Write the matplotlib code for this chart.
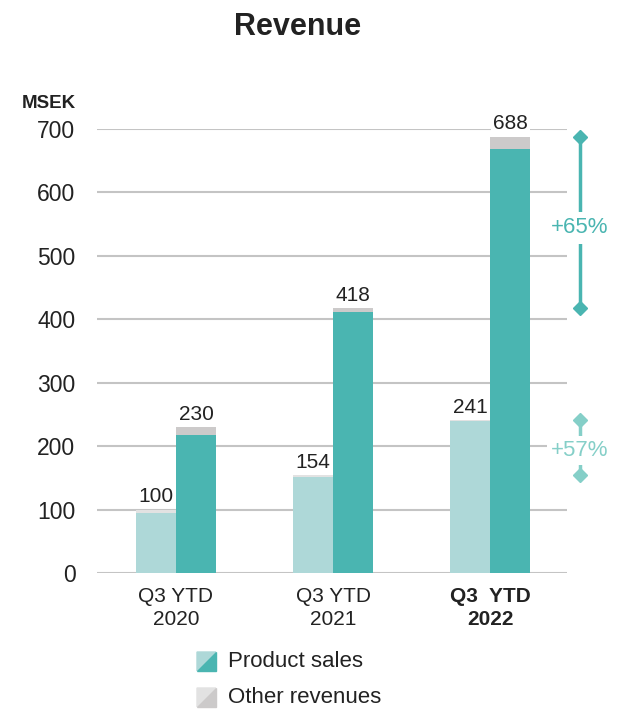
import matplotlib.pyplot as plt
from matplotlib.patches import Polygon
import numpy as np

plt.rcParams['font.family'] = ['Liberation Sans', 'DejaVu Sans']

# Revenue per period, MSEK (light bar = quarter, dark bar = year to date)
periods = ['Q3 YTD\n2020', 'Q3 YTD\n2021', 'Q3  YTD\n2022']
quarter_product = [94, 151, 240]
quarter_other = [6, 3, 1]
ytd_product = [218, 412, 668]
ytd_other = [12, 6, 20]
growth_ytd = '+65%'
growth_quarter = '+57%'
yticks = [0, 100, 200, 300, 400, 500, 600, 700]

LIGHT = '#aed8d8'
DARK = '#4ab5b1'
MID = '#85cfc8'
GREY_LIGHT = '#e2e2e2'
GREY_DARK = '#cccaca'
TEXT = '#222222'

fig = plt.figure(figsize=(6.17, 7.10), dpi=100)
ax = fig.add_axes([97 / 617, 1 - 573 / 710, 470 / 617, 444 / 710])

x = np.arange(len(periods))
w = 0.255
q_tot = np.add(quarter_product, quarter_other)
y_tot = np.add(ytd_product, ytd_other)

ax.bar(x - w / 2, quarter_product, w, color=LIGHT, zorder=3)
ax.bar(x - w / 2, quarter_other, w, bottom=quarter_product, color=GREY_LIGHT, zorder=3)
ax.bar(x + w / 2, ytd_product, w, color=DARK, zorder=3)
ax.bar(x + w / 2, ytd_other, w, bottom=ytd_product, color=GREY_DARK, zorder=3)

box = dict(facecolor='white', edgecolor='none', pad=1.5)
for xi, t in zip(x - w / 2, q_tot):
    ax.text(xi, t + 5, f'{t}', ha='center', va='bottom', fontsize=15,
            color=TEXT, bbox=box, zorder=4)
for xi, t in zip(x + w / 2, y_tot):
    ax.text(xi, t + 5, f'{t}', ha='center', va='bottom', fontsize=15,
            color=TEXT, bbox=box, zorder=4)

ax.set_xlim(-0.503, 2.49)
ax.set_ylim(0, 700)
ax.set_yticks(yticks)
ax.yaxis.grid(True, color='#c4c4c4', lw=1.5, zorder=0)
ax.set_axisbelow(True)
for s in ax.spines.values():
    s.set_visible(False)
ax.tick_params(axis='y', length=0, pad=15.5, labelsize=16.5, labelcolor=TEXT)
ax.tick_params(axis='x', length=0, pad=10, labelsize=15, labelcolor=TEXT)
ax.set_xticks(x)
ax.set_xticklabels(periods, linespacing=1.3)
ax.get_xticklabels()[-1].set_fontweight('bold')

fig.text(76 / 617, 1 - 108 / 710, 'MSEK', ha='right', va='baseline',
         fontsize=13.5, fontweight='bold', color=TEXT)
fig.text(298 / 617, 1 - 35 / 710, 'Revenue', ha='center', va='baseline',
         fontsize=22, fontweight='bold', color=TEXT)

# growth markers to the right of the last group
gx = 2.573
ax.plot([gx, gx], [y_tot[-2], y_tot[-1]], color=DARK, lw=2.5, marker='D', ms=7,
        clip_on=False, zorder=5)
ax.text(gx, 544, growth_ytd, ha='center', va='center', fontsize=16, color=DARK,
        bbox=dict(facecolor='white', edgecolor='none', pad=4), zorder=6, clip_on=False)

ax.plot([gx, gx], [q_tot[-2], q_tot[-1]], color=MID, lw=2.5, marker='D', ms=7,
        clip_on=False, zorder=5)
ax.text(gx, 193, growth_quarter, ha='center', va='center', fontsize=16, color=MID,
        bbox=dict(facecolor='white', edgecolor='none', pad=3), zorder=6, clip_on=False)

# legend with diagonally split swatches
lg = fig.add_axes([0, 0, 1, 1 - 640 / 710])
lg.set_xlim(0, 617)
lg.set_ylim(70, 0)
lg.axis('off')
entries = [('Product sales', LIGHT, DARK), ('Other revenues', GREY_LIGHT, GREY_DARK)]
for i, (label, c1, c2) in enumerate(entries):
    y0 = 12 + i * 36
    s = 19
    x0 = 197
    lg.add_patch(Polygon([[x0, y0], [x0 + s, y0], [x0, y0 + s]], color=c1))
    lg.add_patch(Polygon([[x0 + s, y0], [x0 + s, y0 + s], [x0, y0 + s]], color=c2))
    lg.text(228, y0 + s / 2, label, ha='left', va='center', fontsize=16, color=TEXT)

fig.savefig('out.png', dpi=100)
